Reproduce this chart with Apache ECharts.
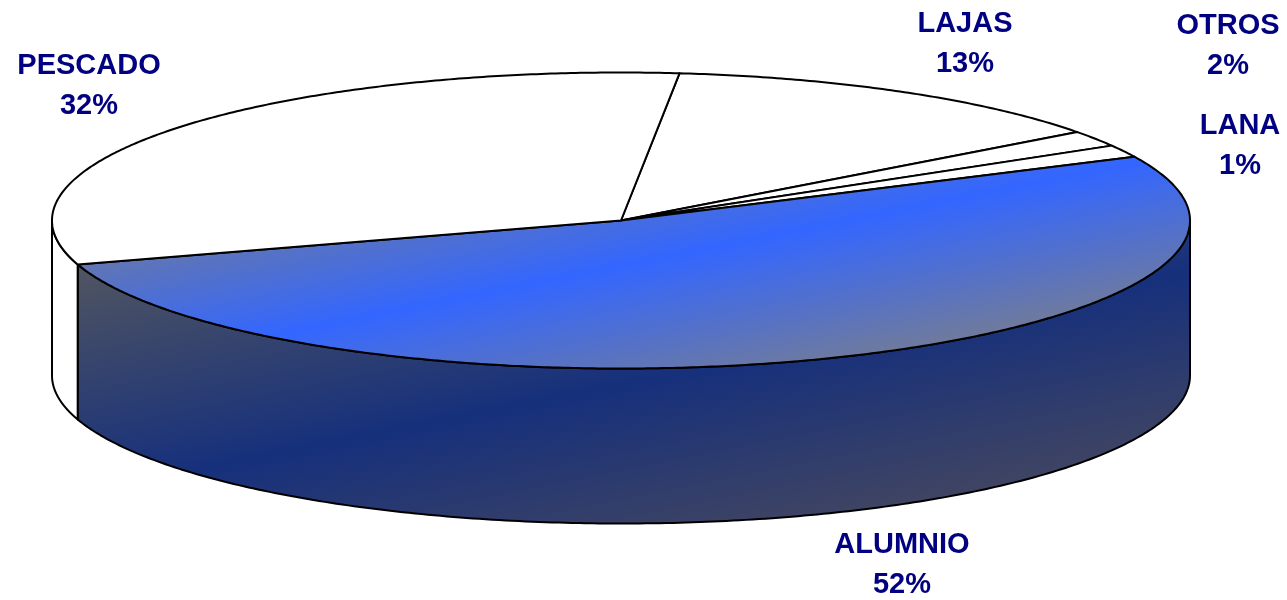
<!DOCTYPE html>
<html>
<head>
<meta charset="utf-8">
<style>html,body{margin:0;padding:0;background:#fff}#c{width:1287px;height:600px}</style>
<script src="https://cdn.jsdelivr.net/npm/echarts@6/dist/echarts.min.js"></script>
</head>
<body>
<div id="c"></div>
<script>
// Data, clockwise from the start angle
var categories = ['LAJAS', 'OTROS', 'LANA', 'ALUMNIO', 'PESCADO'];
var values = [13.2, 1.75, 1.35, 52.4, 31.5];

// Layout
var CX = 621, CY = 220.5, RX = 569, RY = 148, DEPTH = 155, START = 84.1;
var labelAt = { LAJAS: [965, 44], OTROS: [1228, 46], LANA: [1240, 146], ALUMNIO: [902, 565], PESCADO: [89, 86] };

var total = values.reduce(function (a, b) { return a + b; }, 0);
function pt(deg, dy) {
  var r = deg * Math.PI / 180;
  return [CX + RX * Math.cos(r), CY - RY * Math.sin(r) + (dy || 0)];
}
function grad(cx, cy, hw0, hw1, stops) {
  var nx = 0.196, ny = 0.98;
  return new echarts.graphic.LinearGradient(cx - nx * hw0, cy - ny * hw0, cx + nx * hw1, cy + ny * hw1, stops, true);
}
var topFill = {
  ALUMNIO: grad(650, 260, 178, 178, [
    { offset: 0, color: '#808080' }, { offset: 0.5, color: '#3366ff' }, { offset: 1, color: '#808080' }
  ])
};
var sideFill = {
  ALUMNIO: grad(620, 385, 240, 190, [
    { offset: 0, color: '#55585f' }, { offset: 0.558, color: '#16307c' }, { offset: 1, color: '#434660' }
  ])
};
var LINE = { stroke: '#000', lineWidth: 2, lineJoin: 'round' };
function sty(fill) { return { fill: fill, stroke: LINE.stroke, lineWidth: LINE.lineWidth, lineJoin: LINE.lineJoin }; }

function renderItem(params, api) {
  var i = params.dataIndex, name = categories[i];
  var before = 0;
  for (var k = 0; k < i; k++) before += values[k];
  var a0 = START - before / total * 360;
  var a1 = a0 - api.value(0) / total * 360;
  var kids = [];

  // side wall: only the part of the rim on the near half (sin < 0)
  var lo = Math.min(a0, a1), hi = Math.max(a0, a1);
  var ranges = [[-180, 0], [180, 360], [-540, -360]];
  ranges.forEach(function (rg) {
    var s = Math.max(lo, rg[0]), e = Math.min(hi, rg[1]);
    if (e <= s) return;
    var upper = [], lower = [];
    for (var n = 0; n <= 240; n++) {
      var d = s + (e - s) * n / 240;
      upper.push(pt(d));
      lower.unshift(pt(d, DEPTH));
    }
    kids.push({ type: 'polygon', shape: { points: upper.concat(lower) }, style: sty(sideFill[name] || '#fff') });
  });

  // top face
  var pts = [[CX, CY]];
  var steps = Math.max(8, Math.ceil((a0 - a1) * 2));
  for (var m = 0; m <= steps; m++) pts.push(pt(a0 + (a1 - a0) * m / steps));
  kids.push({ type: 'polygon', shape: { points: pts }, style: sty(topFill[name] || '#fff') });

  // label
  kids.push({
    type: 'text', z2: 10,
    style: {
      text: name + '\n' + Math.round(api.value(0)) + '%',
      x: labelAt[name][0], y: labelAt[name][1],
      align: 'center', verticalAlign: 'middle', lineHeight: 40,
      fill: '#000080', font: 'bold 29px "Liberation Sans", Arial, sans-serif'
    }
  });
  return { type: 'group', children: kids };
}

var chart = echarts.init(document.getElementById('c'), null, { renderer: 'canvas' });
chart.setOption({
  animation: false,
  backgroundColor: '#fff',
  series: [{
    type: 'custom',
    coordinateSystem: 'none',
    renderItem: renderItem,
    data: values.map(function (v, i) { return { name: categories[i], value: [v] }; })
  }]
});
</script>
</body>
</html>
